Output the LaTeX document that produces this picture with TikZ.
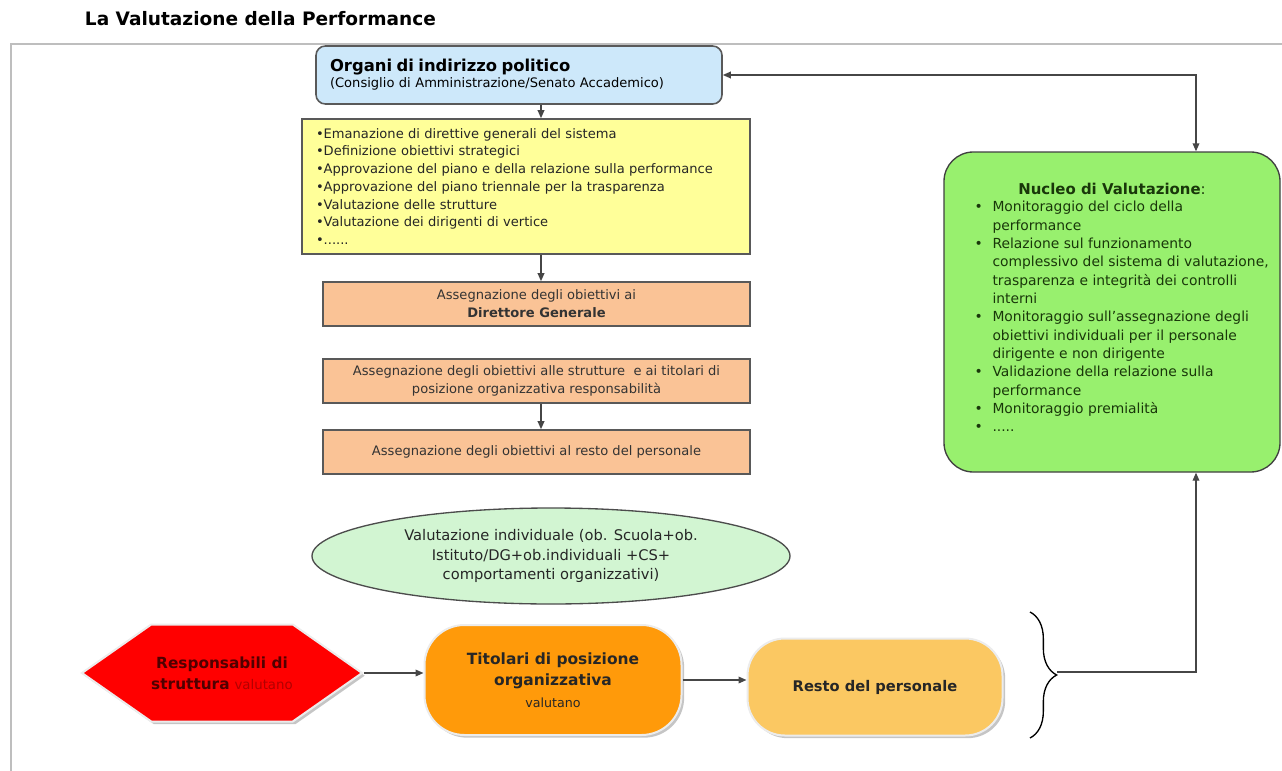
\documentclass[tikz,border=0pt]{standalone}
\usepackage{fontspec}
\setmainfont{DejaVu Sans}
\usetikzlibrary{positioning,shapes.geometric,shapes.symbols,shadows,arrows.meta,decorations.pathreplacing}

\definecolor{frameGray}{RGB}{190,190,190}
\definecolor{lineGray}{RGB}{70,70,70}
\definecolor{bluFill}{RGB}{205,232,250}
\definecolor{yelFill}{RGB}{255,255,153}
\definecolor{peachFill}{RGB}{250,195,150}
\definecolor{ellFill}{RGB}{210,245,210}
\definecolor{nucFill}{RGB}{152,240,110}
\definecolor{nucText}{RGB}{25,55,10}
\definecolor{hexFill}{RGB}{255,0,0}
\definecolor{hexText}{RGB}{80,0,0}
\definecolor{titFill}{RGB}{255,154,10}
\definecolor{restoFill}{RGB}{251,200,98}

\newcommand{\nbul}{\makebox[13.5pt][l]{\textbullet}}
\newcommand{\nind}{\hspace*{13.5pt}}

\tikzset{every picture/.style={line width=0.75pt}}

\begin{document}
\begin{tikzpicture}[x=0.75pt,y=0.75pt,yscale=-1,xscale=1,
  arr/.style={-{Triangle[length=6pt,width=5pt]},draw=lineGray,line width=1pt},
  arrboth/.style={{Triangle[length=6pt,width=5pt]}-{Triangle[length=6pt,width=5pt]},draw=lineGray,line width=1pt},
  upbox/.style={draw=black!65,line width=1.2pt,inner sep=0pt},
  peachbox/.style={upbox,fill=peachFill,minimum width=320.25pt,minimum height=33pt,align=center,
    font=\fontsize{9.8}{13.5}\selectfont,text=black!80},
  lowshape/.style={draw=white!85!gray,line width=1.5pt,
    drop shadow={shadow xshift=2pt,shadow yshift=-2pt,fill=black!45}}]
        \useasboundingbox (0,0) rectangle (1282,771);

        %Title
        \node[anchor=west,font=\fontsize{13.9}{16}\selectfont\bfseries] (title) at (80,19) {La Valutazione della Performance};
        %Frame
        \draw[frameGray,line width=1.5pt] (11,771) -- (11,44) -- (1282,44);

        %Rounded Rect
        \node[upbox,fill=bluFill,rounded corners=7pt,minimum width=304.5pt,minimum height=43.5pt,
          text width=283.5pt,align=left] (organi) at (519,75)
          {{\fontsize{12.3}{15}\selectfont\bfseries Organi di indirizzo politico}\\[0pt]
           {\fontsize{9.8}{12}\selectfont (Consiglio di Amministrazione/Senato Accademico)}};
        \coordinate (spine) at (541,0);

        %Rect
        \node[upbox,fill=yelFill,minimum width=336pt,minimum height=101.25pt,text width=315pt,align=left,
          font=\fontsize{9.8}{13.3}\selectfont,text=black!85] (direttive) at (526,186.5)
          {\textbullet Emanazione di direttive generali del sistema\\
           \textbullet Definizione obiettivi strategici\\
           \textbullet Approvazione del piano e della relazione sulla performance\\
           \textbullet Approvazione del piano triennale per la trasparenza\\
           \textbullet Valutazione delle strutture\\
           \textbullet Valutazione dei dirigenti di vertice\\
           \textbullet ......};

        %Rect
        \node[peachbox] (dg) at (536.5,304) {Assegnazione degli obiettivi ai\\ \textbf{Direttore Generale}};
        \node[peachbox] (strutture) at (536.5,381) {Assegnazione degli obiettivi alle strutture\ \ e ai titolari di\\ posizione organizzativa responsabilità};
        \node[peachbox] (personale) at (536.5,452) {Assegnazione degli obiettivi al resto del personale};

        %Straight Lines
        \draw[arr] (organi.south -| spine) -- (direttive.north -| spine);
        \draw[arr] (direttive.south -| spine) -- (dg.north -| spine);
        \draw[arr] (strutture.south -| spine) -- (personale.north -| spine);

        %Rounded Rect
        \node[draw=black!75,line width=1pt,fill=nucFill,rounded corners=22pt,minimum width=252pt,
          minimum height=240pt] (nucleo) at (1112,312) {};
        \node[below=20pt of nucleo.north,font=\fontsize{11.2}{13}\selectfont,text=nucText] (nuctitle)
          {\textbf{Nucleo di Valutazione}:};
        \node[below right=37pt and 23pt of nucleo.north west,align=left,text=nucText,inner sep=0pt,
          font=\fontsize{10.4}{13.75}\selectfont] (nuclist)
          {\nbul Monitoraggio del ciclo della\\
           \nind performance\\
           \nbul Relazione sul funzionamento\\
           \nind complessivo del sistema di valutazione,\\
           \nind trasparenza e integrità dei controlli\\
           \nind interni\\
           \nbul Monitoraggio sull’assegnazione degli\\
           \nind obiettivi individuali per il personale\\
           \nind dirigente e non dirigente\\
           \nbul Validazione della relazione sulla\\
           \nind performance\\
           \nbul Monitoraggio premialità\\
           \nbul .....};

        %Straight Lines
        \draw[arrboth] (organi.east) -| ([xshift=63pt]nucleo.north);

        %Ellipse
        \node[ellipse,draw=black!70,line width=1pt,fill=ellFill,minimum width=358.5pt,minimum height=72pt,
          align=center,inner sep=0pt,font=\fontsize{11}{14.6}\selectfont,text=black!85] (individuale) at (551,556)
          {Valutazione individuale (ob. Scuola+ob.\\ Istituto/DG+ob.individuali +CS+\\ comportamenti organizzativi)};

        %Hexagon
        \node[lowshape,signal,signal to=west and east,signal pointer angle=70,fill=hexFill,
          minimum width=210pt,minimum height=72.75pt,inner sep=0pt,align=center,
          font=\fontsize{11.5}{15.5}\selectfont,text=hexText] (responsabili) at (222,673)
          {\textbf{Responsabili di}\\ \textbf{struttura} {\color{red!70!black}\fontsize{10}{15.5}\selectfont valutano}};

        %Rounded Rect
        \node[lowshape,fill=titFill,rounded corners=30pt,minimum width=192.75pt,minimum height=82.5pt,
          align=center,font=\fontsize{11.6}{16}\selectfont,text=black!85] (titolari) at (553,680)
          {\textbf{Titolari di posizione}\\ \textbf{organizzativa}\\ {\fontsize{9.5}{14}\selectfont valutano}};
        \node[lowshape,fill=restoFill,rounded corners=28pt,minimum width=191.25pt,minimum height=72.75pt,
          font=\fontsize{11}{13}\selectfont\bfseries,text=black!85] (resto) at (875,687)
          {Resto del personale};

        %Straight Lines
        \draw[arr] (responsabili.east) -- (responsabili.east -| titolari.west);
        \draw[arr] (titolari.east) -- (titolari.east -| resto.west);

        %Brace
        \draw[line width=1pt,decorate,decoration={brace,amplitude=20pt}] (1030,612) -- (1030,738);
        \coordinate (bracetip) at (1057,672);
        \draw[arr] (bracetip) -| ([xshift=63pt]nucleo.south);

\end{tikzpicture}
\end{document}
